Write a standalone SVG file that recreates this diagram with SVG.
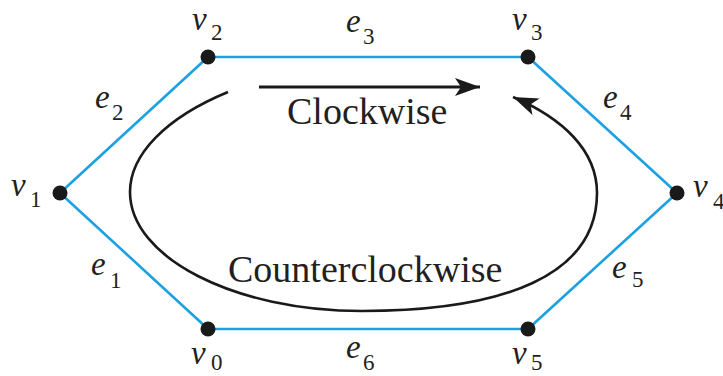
<svg xmlns="http://www.w3.org/2000/svg" width="723" height="376" viewBox="0 0 723 376">
<style>
.edge{stroke:#1ba1e2;stroke-width:2.6;fill:none}
.dot{fill:#1a1a1a}
.lbl{font-family:"Liberation Serif",serif;font-size:33px;font-style:italic;fill:#231f20}
.sub{font-family:"Liberation Serif",serif;font-size:23px;fill:#231f20}
.word{font-family:"Liberation Serif",serif;font-size:38px;fill:#231f20}
.arr{stroke:#1a1a1a;fill:none}
</style>
<defs>
<marker id="ah" markerUnits="userSpaceOnUse" markerWidth="30" markerHeight="24" viewBox="-26 -12 30 24" refX="0" refY="0" orient="auto">
<path d="M0,0 L-25,-9 L-19,0 L-25,9 Z" fill="#1a1a1a"/>
</marker>
</defs>
<g id="connectors">
<line id="e3" class="edge" x1="208" y1="57" x2="528" y2="57"/>
<line id="e4" class="edge" x1="528" y1="57" x2="677" y2="193"/>
<line id="e5" class="edge" x1="677" y1="193" x2="528" y2="329"/>
<line id="e6" class="edge" x1="528" y1="329" x2="208" y2="329"/>
<line id="e1" class="edge" x1="208" y1="329" x2="60" y2="193"/>
<line id="e2" class="edge" x1="60" y1="193" x2="208" y2="57"/>
<line id="clockwise-arrow" class="arr" stroke-width="3" x1="259" y1="87" x2="480" y2="87" marker-end="url(#ah)"/>
<path id="counterclockwise-arrow" class="arr" stroke-width="2.6" d="M228,92 C165,118 130,155 130,192 C130,258 235,311 362,311 C505,311 597,275 597,193 C597,150 562,118 513,97" marker-end="url(#ah)"/>
</g>
<g id="v2"><circle class="dot" cx="208" cy="57" r="7.5"/><text class="lbl" x="192" y="30">v</text><text class="sub" x="211" y="40">2</text></g>
<g id="v3"><circle class="dot" cx="528" cy="57" r="7.5"/><text class="lbl" x="512" y="30">v</text><text class="sub" x="531" y="40">3</text></g>
<g id="v1"><circle class="dot" cx="60" cy="193" r="7.5"/><text class="lbl" x="11" y="196">v</text><text class="sub" x="30" y="207">1</text></g>
<g id="v4"><circle class="dot" cx="677" cy="193" r="7.5"/><text class="lbl" x="693" y="197">v</text><text class="sub" x="713" y="209">4</text></g>
<g id="v0"><circle class="dot" cx="208" cy="329" r="7.5"/><text class="lbl" x="191" y="364">v</text><text class="sub" x="211" y="370">0</text></g>
<g id="v5"><circle class="dot" cx="528" cy="329" r="7.5"/><text class="lbl" x="512" y="364">v</text><text class="sub" x="531" y="370">5</text></g>
<g id="labels">
<text class="lbl" x="346" y="32">e</text><text class="sub" x="363" y="44">3</text>
<text class="lbl" x="95" y="108">e</text><text class="sub" x="112" y="120">2</text>
<text class="lbl" x="603" y="108">e</text><text class="sub" x="620" y="120">4</text>
<text class="lbl" x="91" y="275">e</text><text class="sub" x="110" y="288">1</text>
<text class="lbl" x="612" y="278">e</text><text class="sub" x="632" y="287">5</text>
<text class="lbl" x="346" y="358">e</text><text class="sub" x="363" y="370">6</text>
<text class="word" x="287" y="124">Clockwise</text>
<text class="word" x="228" y="282">Counterclockwise</text>
</g>
</svg>
